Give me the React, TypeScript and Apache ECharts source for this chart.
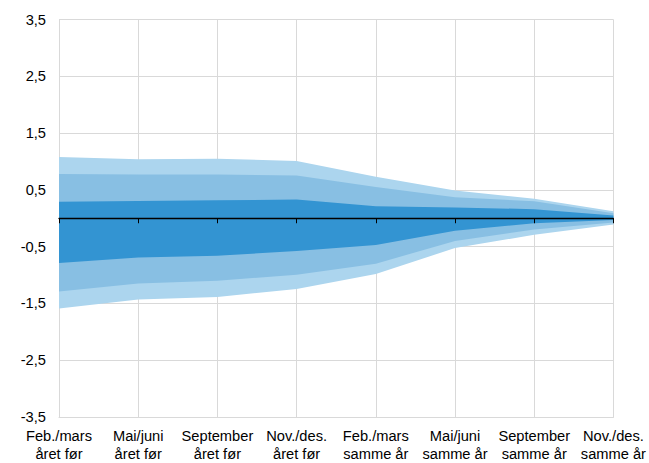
import React, { useEffect, useRef } from "react";
import * as echarts from "echarts";

const categories = [
  "Feb./mars\nåret før",
  "Mai/juni\nåret før",
  "September\nåret før",
  "Nov./des.\nåret før",
  "Feb./mars\nsamme år",
  "Mai/juni\nsamme år",
  "September\nsamme år",
  "Nov./des.\nsamme år",
];

// Band boundaries (upper side)
const lightUpper = [1.08, 1.04, 1.05, 1.01, 0.73, 0.49, 0.345, 0.125];
const mediumUpper = [0.78, 0.77, 0.77, 0.755, 0.55, 0.37, 0.3, 0.09];
const darkUpper = [0.29, 0.305, 0.315, 0.33, 0.21, 0.19, 0.16, 0.05];
// Band boundaries (lower side)
const darkLower = [-0.79, -0.69, -0.66, -0.575, -0.47, -0.22, -0.09, -0.03];
const mediumLower = [-1.29, -1.15, -1.1, -0.995, -0.8, -0.4, -0.2, -0.075];
const lightLower = [-1.59, -1.43, -1.385, -1.245, -0.98, -0.525, -0.29, -0.11];

const COLOR_LIGHT = "#acd5ee";
const COLOR_MEDIUM = "#88bfe3";
const COLOR_DARK = "#3394d2";

const FONT = "'Liberation Sans', Arial, sans-serif";

function band(name: string, data: number[], color: string) {
  return {
    name,
    type: "line",
    data,
    xAxisIndex: 0,
    yAxisIndex: 0,
    symbol: "none",
    showSymbol: false,
    lineStyle: { width: 0 },
    areaStyle: { color, opacity: 1, origin: 0 },
    silent: true,
  };
}

export default function App() {
  const ref = useRef<HTMLDivElement>(null);
  useEffect(() => {
    if (!ref.current) return;
    const chart = echarts.init(ref.current, undefined, { renderer: "svg" });
    chart.setOption({
      animation: false,
      backgroundColor: "#ffffff",
      grid: { left: 59, right: 34, top: 19.5, bottom: 43, containLabel: false },
      xAxis: [
        {
          type: "category",
          data: categories,
          boundaryGap: false,
          position: "bottom",
          axisLine: { show: true, onZero: false, lineStyle: { color: "#d9d9d9", width: 1 } },
          axisTick: { show: false },
          axisLabel: {
            color: "#000000",
            fontFamily: FONT,
            fontSize: 14.67,
            lineHeight: 18,
            margin: 10,
            interval: 0,
          },
          splitLine: { show: true, lineStyle: { color: "#d9d9d9", width: 1 } },
        },
        {
          type: "category",
          data: categories,
          boundaryGap: false,
          position: "bottom",
          z: 10,
          axisLine: { show: true, onZero: true, lineStyle: { color: "#000000", width: 1.3 } },
          axisTick: { show: true, inside: false, length: 5, interval: 0, lineStyle: { color: "#000000", width: 1 } },
          axisLabel: { show: false },
          splitLine: { show: false },
        },
      ],
      yAxis: {
        type: "value",
        min: -3.5,
        max: 3.5,
        interval: 1,
        axisLine: { show: false },
        axisTick: { show: false },
        axisLabel: {
          color: "#000000",
          fontFamily: FONT,
          fontSize: 14.67,
          margin: 13,
          formatter: (v: number) => v.toFixed(1).replace(".", ","),
        },
        splitLine: { show: true, lineStyle: { color: "#d9d9d9", width: 1 } },
      },
      series: [
        band("upper-light", lightUpper, COLOR_LIGHT),
        band("upper-medium", mediumUpper, COLOR_MEDIUM),
        band("upper-dark", darkUpper, COLOR_DARK),
        band("lower-light", lightLower, COLOR_LIGHT),
        band("lower-medium", mediumLower, COLOR_MEDIUM),
        band("lower-dark", darkLower, COLOR_DARK),
      ],
    });
    return () => chart.dispose();
  }, []);
  return (
    <div
      ref={ref}
      style={{ position: "absolute", left: 0, top: 0, width: 649, height: 463 }}
    />
  );
}
